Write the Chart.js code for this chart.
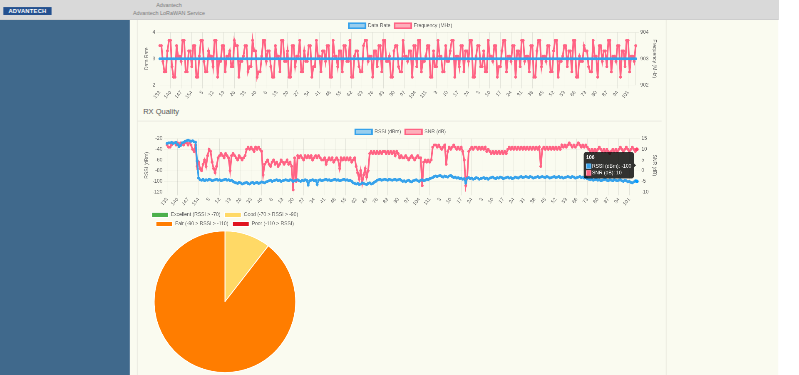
<!DOCTYPE html>
<html><head><meta charset="utf-8">
<script src="https://cdn.jsdelivr.net/npm/chart.js@4.4.1/dist/chart.umd.min.js"></script>
<style>
html,body{margin:0;padding:0;background:#fff;overflow:hidden;width:799px;height:375px;}
#page{position:absolute;left:0;top:0;width:1920px;height:902px;transform:scale(0.41615);transform-origin:0 0;font-family:Arial,"Liberation Sans",sans-serif;}
#content{position:absolute;left:312px;top:0;width:1558px;height:902px;background:#fafbf0;}
#sidebar{position:absolute;left:0;top:48px;width:312px;height:854px;background:#40698c;}
#header{position:absolute;left:0;top:0;width:1870px;height:46px;background:#d9d9d9;border-bottom:2px solid #cbcbcb;z-index:5;}
#logo{position:absolute;left:8px;top:17px;width:116px;height:19px;background:#23508f;color:#fff;font-weight:bold;font-size:14px;line-height:19px;text-align:center;letter-spacing:0.5px;}
#htitle{position:absolute;left:306px;top:5px;width:200px;text-align:center;color:#7a7a7a;font-size:13px;line-height:18px;}
.vline{position:absolute;top:48px;width:2px;height:854px;background:#e9e9df;}
#rxq{position:absolute;left:344px;top:257px;font-size:18px;color:#555;}
#hr{position:absolute;left:330px;top:290px;width:1260px;height:2px;background:#e8e8de;}
.box{position:absolute;}
canvas{display:block;}
</style></head>
<body>
<div id="page">
  <div id="content"></div>
  <div id="sidebar"></div>
  <div class="vline" style="left:329px"></div>
  <div class="vline" style="left:1600px"></div>
  <div class="box" style="left:341px;top:46px;"><canvas id="c1" width="1243" height="197"></canvas></div>
  <div id="rxq">RX Quality</div>
  <div id="hr"></div>
  <div class="box" style="left:341px;top:301px;"><canvas id="c2" width="1243" height="199"></canvas></div>
  <div class="box" style="left:341px;top:500px;"><canvas id="c3" width="399" height="396"></canvas></div>
  <div id="header">
    <div id="logo">ADVANTECH</div>
    <div id="htitle">Advantech<br>Advantech LoRaWAN Service</div>
  </div>
</div>
<script>
// frame counter runs: [start, count]
const fcntRuns = [[133,23],[0,41],[0,115],[0,28],[0,107]];
const frameLabels = [];
for (const [start, count] of fcntRuns) for (let i = 0; i < count; i++) frameLabels.push(String(start + i));

const dataRate = [
3,3,3,3,3,3,3,3,3,3,3,3,3,3,3,3,3,3,3,3,
3,3,3,3,3,3,3,3,3,3,3,3,3,3,3,3,3,3,3,3,
3,3,3,3,3,3,3,3,3,3,3,3,3,3,3,3,3,3,3,3,
3,3,3,3,3,3,3,3,3,3,3,3,3,3,3,3,3,3,3,3,
3,3,3,3,3,3,3,3,3,3,3,3,3,3,3,3,3,3,3,3,
3,3,3,3,3,3,3,3,3,3,3,3,3,3,3,3,3,3,3,3,
3,3,3,3,3,3,3,3,3,3,3,3,3,3,3,3,3,3,3,3,
3,3,3,3,3,3,3,3,3,3,3,3,3,3,3,3,3,3,3,3,
3,3,3,3,3,3,3,3,3,3,3,3,3,3,3,3,3,3,3,3,
3,3,3,3,3,3,3,3,3,3,3,3,3,3,3,3,3,3,3,3,
3,3,3,3,3,3,3,3,3,3,3,3,3,3,3,3,3,3,3,3,
3,3,3,3,3,3,3,3,3,3,3,3,3,3,3,3,3,3,3,3,
3,3,3,3,3,3,3,3,3,3,3,3,3,3,3,3,3,3,3,3,
3,3,3,3,3,3,3,3,3,3,3,3,3,3,3,3,3,3,3,3,
3,3,3,3,3,3,3,3,3,3,3,3,3,3,3,3,3,3,3,3,
3,3,3,3,3,3,3,3,3,3,3,3,3,3];

const frequency = [
903.5,903.5,902.9,902.5,902.5,903.3,903.7,903.7,902.7,902.3,902.3,903.5,903.1,903.1,902.9,903.7,903.7,902.5,902.5,903.3,
903.3,902.7,903.5,903.5,902.3,902.3,903.1,903.7,903.7,902.9,902.5,902.5,903.3,903.1,903.1,902.7,903.7,903.7,902.3,902.9,
902.9,903.5,903.5,902.5,903.1,903.1,903.3,902.7,902.7,903.7,903.5,903.5,902.3,902.9,902.9,903.1,903.5,903.5,902.5,902.7,
902.7,903.7,903.3,903.3,902.3,902.5,902.5,903.1,903.7,903.7,902.9,903.3,903.3,902.7,902.3,902.3,903.5,903.1,903.1,902.5,
903.7,903.7,902.9,902.9,903.3,902.3,902.3,903.5,903.5,902.7,903.1,903.1,903.7,902.5,902.5,903.3,902.9,902.9,903.5,903.5,
902.3,902.7,902.7,903.7,903.1,903.1,902.5,903.3,903.3,902.9,903.5,903.5,902.3,902.3,903.7,903.1,903.1,902.7,903.3,903.3,
902.5,903.5,903.5,902.9,902.9,903.7,902.3,902.3,903.1,903.3,903.3,902.7,902.5,902.5,903.5,903.7,903.7,902.9,903.1,903.1,
902.3,903.3,903.3,902.7,903.5,903.5,902.5,903.7,903.7,902.9,902.9,903.1,902.3,902.3,903.3,903.5,903.5,902.7,902.5,902.5,
903.7,903.1,903.1,902.9,903.3,903.3,902.3,903.5,903.5,902.7,903.7,903.7,902.5,902.9,902.9,903.1,903.5,903.5,902.3,902.3,
903.3,902.7,902.7,903.7,903.1,903.1,902.5,902.5,903.5,902.9,902.9,903.3,903.7,903.7,902.3,903.1,903.1,902.7,903.5,903.5,
902.5,903.3,903.3,902.9,903.7,903.7,902.3,902.3,903.1,903.5,903.5,902.7,902.7,903.3,902.5,902.5,903.7,903.1,903.1,902.9,
903.5,903.5,902.3,902.7,902.7,903.3,903.7,903.7,902.5,903.1,903.1,902.9,903.5,903.5,902.3,903.3,903.3,902.7,903.7,903.7,
902.9,903.1,903.1,902.5,903.5,903.5,902.3,902.3,903.3,903.7,903.7,902.7,903.1,903.1,902.9,903.5,903.5,902.5,902.5,903.3,
903.7,903.7,902.3,902.9,902.9,903.1,903.5,903.5,902.7,903.3,903.3,902.5,903.7,903.7,902.3,902.3,903.1,902.9,902.9,903.5,
903.3,903.3,902.7,902.5,902.5,903.7,903.1,903.1,902.3,903.5,903.5,902.9,903.3,903.3,902.7,903.7,903.7,902.5,903.1,903.1,
902.9,903.5,903.5,902.3,903.3,903.3,902.7,903.7,903.7,902.5,903.1,903.1,902.9,903.5];

const rssi = [
-29,-28,-28,-27,-29,-28,-27,-31,-35,-33,-28,-27,-25,-24,-23,-24,-25,-24,-26,-27,
-62,-94,-97,-98,-96,-99,-97,-98,-96,-97,-99,-98,-97,-96,-98,-97,-99,-98,-97,-96,
-98,-97,-99,-98,-100,-102,-103,-104,-102,-103,-105,-104,-103,-102,-104,-105,-103,-102,-104,-103,
-102,-104,-103,-101,-102,-103,-101,-100,-99,-98,-100,-99,-98,-97,-99,-98,-100,-99,-98,-97,
-98,-99,-97,-98,-100,-99,-98,-97,-99,-100,-98,-99,-97,-98,-107,-99,-98,-97,-99,-98,
-106,-98,-97,-99,-98,-97,-96,-98,-97,-99,-98,-97,-96,-98,-97,-99,-98,-97,-96,-98,
-97,-99,-98,-100,-103,-104,-105,-104,-106,-105,-103,-104,-105,-106,-104,-103,-105,-104,-102,-100,
-98,-97,-96,-98,-97,-96,-97,-98,-96,-97,-98,-97,-96,-98,-97,-96,-98,-100,-99,-101,
-99,-98,-100,-101,-99,-98,-97,-99,-100,-98,-97,-99,-98,-96,-97,-95,-94,-93,-91,-90,
-91,-90,-89,-91,-92,-90,-91,-92,-90,-89,-91,-93,-92,-94,-93,-95,-94,-96,-95,-103,
-94,-93,-95,-94,-96,-95,-93,-94,-96,-95,-94,-93,-95,-94,-96,-94,-93,-92,-94,-95,
-93,-94,-92,-93,-95,-94,-93,-92,-94,-93,-95,-94,-92,-93,-94,-92,-91,-93,-92,-91,
-92,-93,-91,-92,-94,-93,-92,-91,-93,-92,-91,-92,-93,-91,-92,-94,-93,-92,-91,-93,
-92,-91,-93,-92,-94,-93,-92,-91,-92,-93,-91,-92,-94,-93,-92,-91,-93,-92,-94,-93,
-95,-96,-97,-96,-98,-97,-96,-98,-97,-99,-98,-97,-96,-98,-99,-97,-98,-99,-97,-98,
-99,-98,-97,-99,-100,-98,-99,-101,-100,-102,-103,-101,-99,-100];

const snr = [
12,11,11,12,13,13,12,13,12,13,13,12,13,13,12,13,12,10,9,12,
2,4,1,0,3,5,2,7,10,9,4,1,-1,2,6,7,8,7,6,8,
7,6,0,7,8,7,6,5,7,6,5,6,7,10,11,10,11,10,9,11,
10,11,10,9,-2,3,4,5,3,2,4,5,3,4,2,3,5,4,3,4,
5,3,4,2,-9,6,-5,7,6,7,6,5,7,6,7,6,7,5,6,7,
6,7,6,5,5,6,3,5,6,5,6,4,5,6,5,1,6,5,6,5,
6,5,6,4,5,6,2,-1,-4,0,-6,-2,1,-3,0,8,9,8,9,8,
9,8,9,8,9,9,8,9,8,9,8,9,7,9,8,6,7,6,6,7,
6,5,6,7,6,5,6,7,6,6,-7,4,5,4,5,4,5,11,12,12,
11,12,11,10,11,12,3,9,11,10,11,12,11,10,11,10,11,9,5,-7,
-3,9,10,11,10,11,11,10,11,10,11,10,11,9,10,9,8,9,8,9,
8,9,8,9,8,9,8,10,11,10,11,10,11,10,11,10,11,10,11,10,
11,10,11,10,11,10,11,10,11,2,10,11,10,11,10,11,10,11,10,11,
10,11,10,12,11,12,11,12,13,12,11,12,11,12,13,12,11,12,11,12,
11,10,9,10,9,10,9,10,11,10,9,10,9,10,9,8,9,10,9,10,
9,10,11,10,9,10,11,10,9,10,11,10,9,10];

const qualityLabels = ['Excellent (RSSI > -70)','Good (-70 > RSSI > -90)','Fair (-90 > RSSI > -110)','Poor (-110 > RSSI)'];
const qualityCounts = [0, 33, 281, 0];

const drTicks = [2, 4];        // Data Rate axis min/max
const freqTicks = [902, 904];  // Frequency axis min/max
const rssiTicks = [-120, -20];
const snrTicks = [-10, 15];

Chart.defaults.font.family = 'Arial, "Liberation Sans", Helvetica, sans-serif';
Chart.defaults.font.size = 12;
Chart.defaults.color = '#666';

const BLUE = 'rgb(54,162,235)', BLUE_BG = 'rgba(54,162,235,0.5)';
const PINK = 'rgb(255,99,132)', PINK_BG = 'rgba(255,99,132,0.5)';

function xAxis() {
  return {
    grid: { color: 'rgba(0,0,0,0.1)' },
    ticks: { autoSkip: false, maxRotation: 50, minRotation: 50,
      callback: (v, i) => (i % 7 === 0 ? frameLabels[i] : null) }
  };
}
function lineDs(label, data, c, bg, axis) {
  return { label, data, borderColor: c, backgroundColor: bg, borderWidth: 4, pointRadius: 3,
    pointBackgroundColor: c, pointBorderColor: c, pointBorderWidth: 1, pointHoverRadius: 4,
    tension: 0, fill: false, yAxisID: axis };
}

new Chart(document.getElementById('c1'), {
  type: 'line',
  data: { labels: frameLabels, datasets: [
    lineDs('Data Rate', dataRate, BLUE, BLUE_BG, 'yDR'),
    lineDs('Frequency (MHz)', frequency, PINK, PINK_BG, 'yF') ] },
  options: {
    responsive: false, animation: false, devicePixelRatio: 1,
    plugins: { legend: { position: 'top' }, tooltip: { enabled: false } },
    scales: {
      x: xAxis(),
      yDR: { position: 'left', min: drTicks[0], max: drTicks[1], ticks: { stepSize: 1 },
        title: { display: true, text: 'Data Rate' } },
      yF: { position: 'right', min: freqTicks[0], max: freqTicks[1], ticks: { stepSize: 1 },
        grid: { drawOnChartArea: false }, title: { display: true, text: 'Frequency (MHz)' } }
    }
  }
});

const rx = new Chart(document.getElementById('c2'), {
  type: 'line',
  data: { labels: frameLabels, datasets: [
    lineDs('RSSI (dBm)', rssi, BLUE, BLUE_BG, 'yR'),
    lineDs('SNR (dB)', snr, PINK, PINK_BG, 'yS') ] },
  options: {
    responsive: false, animation: false, devicePixelRatio: 1,
    interaction: { mode: 'index', intersect: false },
    plugins: { legend: { position: 'top' },
      tooltip: { mode: 'index', intersect: false, backgroundColor: 'rgba(0,0,0,0.8)', cornerRadius: 6 } },
    scales: {
      x: xAxis(),
      yR: { position: 'left', min: rssiTicks[0], max: rssiTicks[1], ticks: { stepSize: 20 },
        title: { display: true, text: 'RSSI (dBm)' } },
      yS: { position: 'right', min: snrTicks[0], max: snrTicks[1], ticks: { stepSize: 5 },
        grid: { drawOnChartArea: false }, title: { display: true, text: 'SNR (dB)' } }
    }
  }
});
const hoverIdx = frameLabels.length - 1;
const act = [{ datasetIndex: 0, index: hoverIdx }, { datasetIndex: 1, index: hoverIdx }];
rx.setActiveElements(act);
rx.tooltip.setActiveElements(act, { x: 0, y: 0 });
rx.update();

new Chart(document.getElementById('c3'), {
  type: 'pie',
  data: { labels: qualityLabels, datasets: [{ data: qualityCounts,
    backgroundColor: ['#4cb04c', '#ffd966', '#ff7d00', '#e0141e'], borderColor: '#fff', borderWidth: 2 }] },
  options: { responsive: false, animation: false, devicePixelRatio: 1,
    plugins: { legend: { position: 'top' }, tooltip: { enabled: false } } }
});
</script>
</body></html>
